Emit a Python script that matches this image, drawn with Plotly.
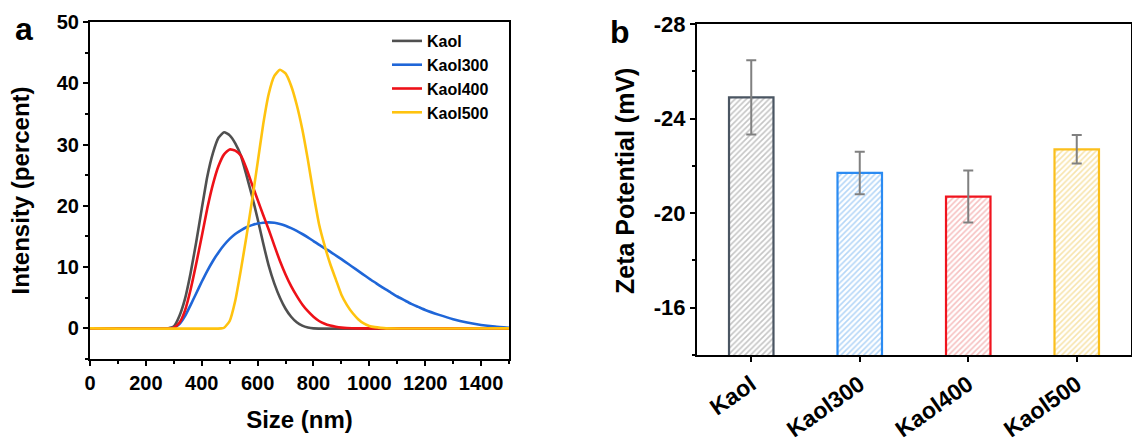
import plotly.graph_objects as go

# ---------------- Panel a: size distribution ----------------
kaol_x = [0, 280, 300, 320, 340, 360, 380, 400, 420, 440, 460, 480, 500, 520, 540, 560, 580, 600,
          620, 640, 660, 680, 700, 720, 740, 760, 780, 800, 1500]
kaol_y = [0, 0, 0.3, 2, 4.8, 9, 14, 19.5, 24.8, 28.6, 31.1, 32, 31.5, 30.2, 28.2, 25.0, 21.6, 17.9,
          13.9, 10.2, 7.3, 5, 3.2, 1.9, 1, 0.45, 0.15, 0, 0]

kaol300_x = [0, 280, 300, 320, 340, 360, 380, 400, 420, 440, 460, 480, 500, 520, 540, 560, 580, 600,
             620, 640, 660, 680, 700, 720, 740, 760, 780, 800, 825, 850, 875, 900, 925, 950, 975, 1000,
             1025, 1050, 1075, 1100, 1125, 1150, 1175, 1200, 1250, 1300, 1350, 1400, 1450, 1500]
kaol300_y = [0, 0, 0.1, 0.7, 2, 3.8, 5.7, 7.6, 9.4, 11, 12.4, 13.6, 14.6, 15.4, 16.0, 16.5, 16.85, 17.1,
             17.25, 17.3, 17.25, 17.05, 16.75, 16.35, 15.9, 15.4, 14.85, 14.25, 13.5, 12.8, 12.05, 11.3, 10.5,
             9.7, 8.9, 8.1, 7.35, 6.6, 5.9, 5.2, 4.6, 4.0, 3.5, 3.0, 2.2, 1.5, 0.95, 0.55, 0.28, 0.1]

kaol400_x = [0, 290, 300, 320, 340, 360, 380, 400, 420, 440, 460, 480, 500, 520, 540, 560, 580, 600,
             620, 640, 660, 680, 700, 720, 740, 760, 780, 800, 820, 840, 860, 880, 900, 920, 960, 1500]
kaol400_y = [0, 0, 0.1, 0.9, 2.9, 6.3, 10.5, 15, 19.6, 23.5, 26.5, 28.4, 29.2, 29.0, 28.2, 26.1, 23.5, 21.0,
             18.5, 16.1, 13.5, 11, 8.8, 6.9, 5.3, 3.9, 2.8, 1.9, 1.2, 0.75, 0.45, 0.25, 0.12, 0.05, 0, 0]

kaol500_x = [0, 470, 480, 500, 520, 540, 560, 580, 600, 620, 640, 660, 680, 700, 720, 740, 760, 780,
             800, 820, 840, 860, 880, 900, 920, 940, 960, 980, 1000, 1020, 1040, 1060, 1500]
kaol500_y = [0, 0, 0.1, 1.2, 4.5, 9.5, 15, 20.8, 27, 33.3, 38.3, 41.2, 42.2, 41.6, 39.6, 36.5, 32.5, 27.5,
             22, 17, 13.5, 10.5, 8, 5.5, 3.8, 2.5, 1.5, 0.8, 0.4, 0.2, 0.08, 0, 0]

series_names = ["Kaol", "Kaol300", "Kaol400", "Kaol500"]
line_colors = ["#505050", "#1f66d8", "#ee1118", "#ffc30f"]

# ---------------- Panel b: zeta potential ----------------
samples = ["Kaol", "Kaol300", "Kaol400", "Kaol500"]
zeta = [-24.9, -21.7, -20.7, -22.7]
zeta_err = [1.57, 0.9, 1.1, 0.6]
bar_edge = ["#4a5562", "#2b8bf2", "#f0141e", "#fbbf1c"]
bar_hatch = ["#8c8c8c", "#6aaef0", "#ee8282", "#f0c95a"]

zeta_ticks = [-28, -24, -20, -16]
zeta_ticktext = ["-28", "-24", "-20", "-16"]
zeta_minor_ticks = [-26, -22, -18, -14]

W, H = 1132, 443
def px(x):
    return x / W
def py(y):
    return 1 - y / H

fig = go.Figure()

curves = [(kaol_x, kaol_y), (kaol300_x, kaol300_y), (kaol400_x, kaol400_y), (kaol500_x, kaol500_y)]
for (xs, ys), name, col in zip(curves, series_names, line_colors):
    fig.add_trace(go.Scatter(x=xs, y=ys, mode="lines", name=name,
                             line=dict(color=col, width=2.6, shape="spline", smoothing=0.5),
                             xaxis="x", yaxis="y"))

fig.add_trace(go.Bar(
    x=samples, y=zeta, width=0.41, showlegend=False, xaxis="x2", yaxis="y2",
    marker=dict(color="white", line=dict(color=bar_edge, width=2.2),
                pattern=dict(shape="/", fgcolor=bar_hatch, bgcolor="white", size=4, solidity=0.4)),
    error_y=dict(type="data", array=zeta_err, symmetric=True, color="#808080", thickness=2, width=5),
))

tickfont = dict(family="Liberation Sans", size=20, color="black", weight="bold")
titlefont = dict(family="Liberation Sans", size=24, color="black", weight="bold")

fig.update_layout(
    width=W, height=H, margin=dict(l=0, r=0, t=0, b=0),
    paper_bgcolor="white", plot_bgcolor="white",
    showlegend=True,
    legend=dict(x=px(387), y=py(24), xanchor="left", yanchor="top",
                font=dict(family="Liberation Sans", size=16, color="black", weight="bold"),
                bgcolor="rgba(0,0,0,0)", tracegroupgap=0, itemwidth=30),
    xaxis=dict(domain=[px(90), px(509)], range=[0, 1500], tick0=0, dtick=200, anchor="y",
               ticks="outside", ticklen=5, tickwidth=2, tickcolor="black",
               showline=True, linecolor="black", linewidth=2.2, mirror=True,
               showgrid=False, zeroline=False, tickfont=tickfont, automargin=False,
               minor=dict(dtick=100, ticks="outside", ticklen=3, tickwidth=2, tickcolor="black", showgrid=False),
               title=dict(text="Size (nm)", font=titlefont, standoff=18)),
    yaxis=dict(domain=[py(359), py(22)], range=[-5, 50], tick0=0, dtick=10, anchor="x",
               ticks="outside", ticklen=5, tickwidth=2, tickcolor="black",
               showline=True, linecolor="black", linewidth=2.2, mirror=True,
               showgrid=False, zeroline=False, tickfont=tickfont, automargin=False,
               minor=dict(tick0=-5, dtick=5, ticks="outside", ticklen=3, tickwidth=2, tickcolor="black", showgrid=False),
               title=dict(text="Intensity (percent)", font=titlefont, standoff=20)),
    xaxis2=dict(domain=[px(697), px(1131)], range=[-0.5, 3.5], anchor="y2",
                ticks="outside", ticklen=5, tickwidth=2, tickcolor="black",
                showline=True, linecolor="black", linewidth=2.2, mirror=True,
                showgrid=False, zeroline=False, automargin=False, tickangle=-35,
                tickfont=dict(family="Liberation Sans", size=23, color="black", weight="bold")),
    yaxis2=dict(domain=[py(355), py(24)], range=[-14, -28], anchor="x2",
                tickvals=zeta_ticks, ticktext=zeta_ticktext,
                ticks="outside", ticklen=5, tickwidth=2, tickcolor="black",
                showline=True, linecolor="black", linewidth=2.2, mirror=True,
                showgrid=False, zeroline=False, automargin=False,
                tickfont=dict(family="Liberation Sans", size=22, color="black", weight="bold"),
                minor=dict(tickvals=zeta_minor_ticks, ticks="outside", ticklen=3, tickwidth=2,
                           tickcolor="black", showgrid=False)),
    annotations=[
        dict(text="a", x=px(24), y=py(29), xref="paper", yref="paper", showarrow=False,
             xanchor="center", yanchor="middle",
             font=dict(family="Liberation Sans", size=32, color="black", weight="bold")),
        dict(text="b", x=px(620), y=py(32), xref="paper", yref="paper", showarrow=False,
             xanchor="center", yanchor="middle",
             font=dict(family="Liberation Sans", size=32, color="black", weight="bold")),
        dict(text="Zeta Potential (mV)", x=px(625), y=py(181), xref="paper", yref="paper",
             showarrow=False, textangle=-90, xanchor="center", yanchor="middle",
             font=dict(family="Liberation Sans", size=25, color="black", weight="bold")),
    ],
)

fig.write_html("out.html")
